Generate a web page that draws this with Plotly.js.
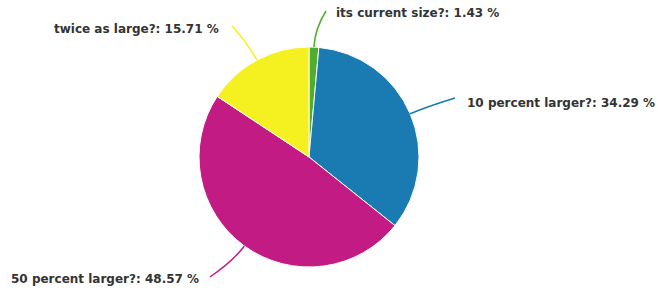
<!DOCTYPE html>
<html>
<head>
<meta charset="utf-8">
<script src="https://cdn.plot.ly/plotly-3.0.1.min.js"></script>
<style>html,body{margin:0;padding:0;background:#fff;}#chart{width:658px;height:291px;}</style>
</head>
<body>
<div id="chart"></div>
<script>
// Data
const labels = ["its current size?", "10 percent larger?", "50 percent larger?", "twice as large?"];
const values = [1.43, 34.29, 48.57, 15.71];
const colors = ["#4fae2e", "#1a7ab2", "#c21c84", "#f5f01f"];

// Layout (pixel geometry)
const W = 658, H = 291;
const cx = 309, cy = 157, R = 110;
const labelPos = [
  {x: 334, y: 13, anchor: "left",  endX: 326, endY: 11},
  {x: 465, y: 103, anchor: "left", endX: 455, endY: 98},
  {x: 201, y: 279, anchor: "right", endX: 210, endY: 277},
  {x: 221, y: 29, anchor: "right", endX: 232, endY: 26}
];
const px = v => v / W;
const py = v => 1 - v / H;

const total = values.reduce((a, b) => a + b, 0);
let cum = 0;
const shapes = [], annotations = [];
values.forEach((v, i) => {
  const mid = (cum + v / 2) / total * 2 * Math.PI;
  cum += v;
  const sx = cx + R * Math.sin(mid), sy = cy - R * Math.cos(mid);
  const qx = cx + (R + 18) * Math.sin(mid), qy = cy - (R + 18) * Math.cos(mid);
  const L = labelPos[i];
  shapes.push({
    type: "path", xref: "paper", yref: "paper",
    path: `M ${px(sx)} ${py(sy)} Q ${px(qx)} ${py(qy)} ${px(L.endX)} ${py(L.endY)}`,
    line: {color: colors[i], width: 1.5}
  });
  annotations.push({
    xref: "paper", yref: "paper", x: px(L.x), y: py(L.y),
    xanchor: L.anchor, yanchor: "middle", showarrow: false,
    text: "<b>" + labels[i] + ": " + v.toFixed(2) + " %</b>",
    font: {family: "DejaVu Sans", size: 12, color: "#333333"}
  });
});

const trace = {
  type: "pie", labels: labels, values: values, sort: false,
  direction: "clockwise", rotation: 0, textinfo: "none", hoverinfo: "label+percent",
  marker: {colors: colors, line: {color: "#ffffff", width: 1}},
  domain: {x: [(cx - R) / W, (cx + R) / W], y: [1 - (cy + R) / H, 1 - (cy - R) / H]}
};

Plotly.newPlot("chart", [trace], {
  width: W, height: H, margin: {l: 0, r: 0, t: 0, b: 0},
  paper_bgcolor: "#ffffff", showlegend: false,
  shapes: shapes, annotations: annotations
}, {displayModeBar: false, staticPlot: true});
</script>
</body>
</html>
